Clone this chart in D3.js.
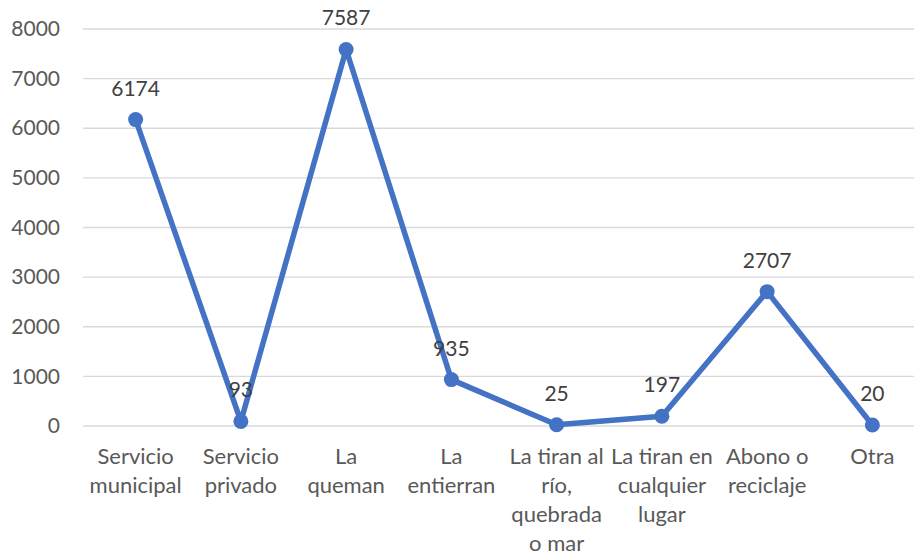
<!DOCTYPE html>
<html>
<head>
<meta charset="utf-8">
<script src="https://cdn.jsdelivr.net/npm/d3@7/dist/d3.min.js"></script>
<style>
  html, body { margin: 0; padding: 0; background: #fff; }
  svg { display: block; }
  text { font-family: Lato, "Open Sans", sans-serif; }
</style>
</head>
<body>
<svg id="chart" width="914" height="552"></svg>
<script>
// Destino de la basura: número de hogares por categoría
const categories = [
  "Servicio municipal",
  "Servicio privado",
  "La queman",
  "La entierran",
  "La tiran al río, quebrada o mar",
  "La tiran en cualquier lugar",
  "Abono o reciclaje",
  "Otra"
];
// Líneas de texto de cada etiqueta del eje X
const categoryLines = [
  ["Servicio", "municipal"],
  ["Servicio", "privado"],
  ["La", "queman"],
  ["La", "entierran"],
  ["La tiran al", "río,", "quebrada", "o mar"],
  ["La tiran en", "cualquier", "lugar"],
  ["Abono o", "reciclaje"],
  ["Otra"]
];
const values = [6174, 93, 7587, 935, 25, 197, 2707, 20];
const yTicks = [0, 1000, 2000, 3000, 4000, 5000, 6000, 7000, 8000];

const svg = d3.select("#chart");
const W = 914, H = 552;
const plot = { left: 83, right: 925, top: 29, bottom: 426 };

const x = d3.scaleBand().domain(categories).range([plot.left, plot.right]).padding(0);
const y = d3.scaleLinear().domain([0, 8000]).range([plot.bottom, plot.top]);
const cx = d => x(d) + x.bandwidth() / 2;

// Líneas de cuadrícula horizontales
svg.append("g")
  .selectAll("line")
  .data(yTicks)
  .join("line")
  .attr("x1", plot.left)
  .attr("x2", W)
  .attr("y1", d => y(d))
  .attr("y2", d => y(d))
  .attr("stroke", "#d9d9d9")
  .attr("stroke-width", 1.3);

// Eje Y
const yAxis = svg.append("g")
  .attr("transform", `translate(${plot.left},0)`)
  .call(d3.axisLeft(y).tickValues(yTicks).tickSize(0).tickPadding(23).tickFormat(d3.format("d")));
yAxis.select(".domain").remove();
yAxis.selectAll("text")
  .attr("fill", "#595959")
  .style("font-size", "21px");

// Eje X con etiquetas en varias líneas
const xAxis = svg.append("g")
  .attr("transform", `translate(0,${plot.bottom})`)
  .call(d3.axisBottom(x).tickSize(0).tickFormat(""));
xAxis.select(".domain").remove();
xAxis.selectAll(".tick").each(function(d, i) {
  const t = d3.select(this).append("text")
    .attr("fill", "#595959")
    .attr("text-anchor", "middle")
    .style("font-size", "22px");
  categoryLines[i].forEach((line, j) => {
    t.append("tspan")
      .attr("x", 0)
      .attr("y", 38 + j * 29)
      .text(line);
  });
});

// Serie
const data = categories.map((c, i) => ({ c, v: values[i] }));
svg.append("path")
  .datum(data)
  .attr("fill", "none")
  .attr("stroke", "#4472C4")
  .attr("stroke-width", 5.5)
  .attr("stroke-linejoin", "round")
  .attr("d", d3.line().x(d => cx(d.c)).y(d => y(d.v)));

svg.append("g")
  .selectAll("circle")
  .data(data)
  .join("circle")
  .attr("cx", d => cx(d.c))
  .attr("cy", d => y(d.v))
  .attr("r", 7.5)
  .attr("fill", "#4472C4");

// Etiquetas de datos
svg.append("g")
  .selectAll("text")
  .data(data)
  .join("text")
  .attr("x", d => cx(d.c))
  .attr("y", d => y(d.v) - 24)
  .attr("text-anchor", "middle")
  .attr("fill", "#404040")
  .style("font-size", "21px")
  .text(d => d.v);
</script>
</body>
</html>
